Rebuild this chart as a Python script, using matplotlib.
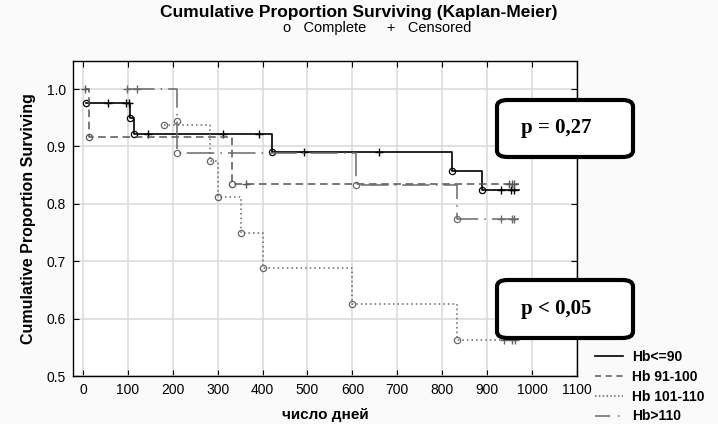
import numpy as np
import matplotlib
matplotlib.use("Agg")
import matplotlib.pyplot as plt
from matplotlib.patches import FancyBboxPatch
from matplotlib.lines import Line2D

plt.rcParams['font.family'] = ['Liberation Sans', 'DejaVu Sans']

t_90 = [7, 55, 95, 102, 105, 113, 144, 313, 393, 420, 493, 660, 822, 889, 931, 953, 960]
s_90 = [0.976, 0.976, 0.976, 0.976, 0.950, 0.922, 0.922, 0.922, 0.922, 0.890, 0.890, 0.890,
        0.857, 0.824, 0.824, 0.824, 0.824]
e_90 = [1, 0, 0, 0, 1, 1, 0, 0, 0, 1, 0, 0, 1, 1, 0, 0, 0]

t_100 = [4, 13, 332, 364, 948, 955, 960]
s_100 = [1.0, 0.917, 0.834, 0.834, 0.834, 0.834, 0.834]
e_100 = [0, 1, 1, 0, 0, 0, 0]

t_110 = [180, 284, 300, 353, 400, 600, 833, 938, 955, 962]
s_110 = [0.9375, 0.875, 0.8125, 0.75, 0.6875, 0.625, 0.5625, 0.5625, 0.5625, 0.5625]
e_110 = [1, 1, 1, 1, 1, 1, 1, 0, 0, 0]

t_hi = [98, 120, 209, 209, 607, 833, 931, 955, 960]
s_hi = [1.0, 1.0, 0.944, 0.889, 0.833, 0.773, 0.773, 0.773, 0.773]
e_hi = [0, 0, 1, 1, 1, 1, 0, 0, 0]

labels = ['Hb<=90', 'Hb 91-100', 'Hb 101-110', 'Hb>110']
styles = ['-', (0, (5, 3)), (0, (1, 2)), (0, (18, 4, 1, 4))]
leg_styles = ['-', (0, (4, 3)), (0, (1, 1.5)), (0, (10, 5, 1, 3))]
colors = ['#000000', '#555555', '#666666', '#6a6a6a']
widths = [1.2, 1.1, 1.1, 1.1]

series = [(t_90, s_90, e_90), (t_100, s_100, e_100), (t_110, s_110, e_110), (t_hi, s_hi, e_hi)]

fig = plt.figure(figsize=(7.18, 4.24), dpi=100, facecolor='#fafafa')
ax = fig.add_axes([73/718, 1 - 376/424, 504/718, 315/424])
ax.set_facecolor('white')

for (t, s, e), lab, ls, c, lw in zip(series, labels, styles, colors, widths):
    t = np.array(t); s = np.array(s); e = np.array(e)
    tt = np.append(t, t[-1] + 10)
    ss = np.append(s, s[-1])
    ax.plot(tt, ss, drawstyle='steps-post', ls=ls, color=c, lw=lw, label=lab)
    ax.plot(t[e == 1], s[e == 1], 'o', mfc='none', mec=c, ms=4.5, mew=0.9)
    ax.plot(t[e == 0], s[e == 0], '+', color=c, ms=6, mew=1.0)

ax.set_xlim(-22, 1100)
ax.set_ylim(0.5, 1.049)
ax.set_xticks(np.arange(0, 1101, 100))
ax.set_yticks(np.arange(0.5, 1.01, 0.1))
ax.set_yticklabels(['0.5', '0.6', '0.7', '0.8', '0.9', '1.0'])
ax.grid(True, color='#dcdcdc', lw=1.2)
ax.set_axisbelow(True)
ax.tick_params(direction='in', length=4, top=True, right=True, labelsize=10, pad=5)
for sp in ax.spines.values():
    sp.set_linewidth(1.0)

ax.set_xlabel('число дней', fontsize=11, fontweight='bold', labelpad=8)
ax.set_ylabel('Cumulative Proportion Surviving', fontsize=11.5, fontweight='bold', labelpad=8)

fig.text(0.5, 1 - 13/424, 'Cumulative Proportion Surviving (Kaplan-Meier)',
         ha='center', va='center', fontsize=12.5, fontweight='bold')
fig.text(377/718, 1 - 28/424, 'o   Complete     +   Censored', ha='center', va='center', fontsize=10.5)

# p-value boxes
for (y0, y1, txt) in [(100, 157, 'p = 0,27'), (280, 338, 'p < 0,05')]:
    box = FancyBboxPatch((497/718, 1 - y1/424), 136/718, (y1 - y0)/424,
                         boxstyle='round,pad=0,rounding_size=0.015',
                         transform=fig.transFigure, fc='white', ec='black', lw=3, zorder=5)
    fig.add_artist(box)
    fig.text(556/718, 1 - (y0 + y1)/2/424, txt, ha='center', va='center', fontsize=15,
             fontweight='bold', family='Liberation Serif', zorder=6)

handles = [Line2D([], [], ls=ls, color=c, lw=lw) for ls, c, lw in zip(leg_styles, colors, widths)]
fig.legend(handles=handles, labels=labels, loc='upper left', bbox_to_anchor=(588/718, 1 - 343/424),
           frameon=False, handlelength=2.0, handletextpad=0.7, labelspacing=0.42,
           borderpad=0, prop={'weight': 'bold', 'size': 10})

fig.savefig('out.png', dpi=100, facecolor=fig.get_facecolor())
